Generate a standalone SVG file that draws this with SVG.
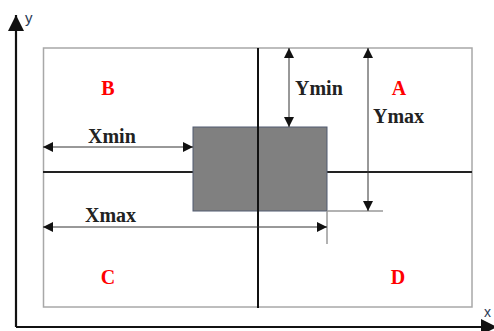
<svg xmlns="http://www.w3.org/2000/svg" width="494" height="331" viewBox="0 0 494 331">
<style>
.lbl{font-family:"Liberation Serif","Times New Roman",serif;font-weight:bold;font-size:20px;fill:#222}
.reg{font-family:"Liberation Serif","Times New Roman",serif;font-weight:bold;font-size:20px;fill:#ff0000;text-anchor:middle}
.dim{stroke:#333;stroke-width:1;fill:none}
.ext{stroke:#999;stroke-width:1.5;fill:none}
.axis{stroke:#111;stroke-width:2.2;fill:none}
</style>
<defs>
<marker id="ah" viewBox="0 0 10 10" refX="10" refY="5" markerWidth="10" markerHeight="10" markerUnits="userSpaceOnUse" orient="auto-start-reverse">
<path d="M0,0 L10,5 L0,10 Z" fill="#111"/>
</marker>
<marker id="axh" viewBox="0 0 10 10" refX="10" refY="5" markerWidth="17" markerHeight="16" markerUnits="userSpaceOnUse" orient="auto">
<path d="M0,0 L10,5 L0,10 Z" fill="#111"/>
</marker>
</defs>
<rect width="494" height="331" fill="#fff"/>
<g id="axes">
<path class="axis" d="M16,327 L16,15" marker-end="url(#axh)"/>
<path class="axis" d="M16,327 L497,327" marker-end="url(#axh)"/>
<text x="25" y="23" font-family="Liberation Sans, Arial, sans-serif" font-size="15" fill="#2b3a55">y</text>
<text x="484" y="317" font-family="Liberation Sans, Arial, sans-serif" font-size="14" fill="#2b3a55">x</text>
</g>
<g id="frame">
<rect x="43.5" y="48" width="428.5" height="259" fill="none" stroke="#a8a8a8" stroke-width="1.5"/>
</g>
<g id="crosshair">
<line x1="43" y1="172" x2="472" y2="172" stroke="#222" stroke-width="2"/>
</g>
<g id="box">
<rect x="193" y="127" width="134" height="84" fill="#808080" stroke="#505a70" stroke-width="1"/>
</g>
<g id="vline">
<line x1="258" y1="48" x2="258" y2="308" stroke="#111" stroke-width="2"/>
</g>
<g id="connectors">
<line class="ext" x1="327" y1="211" x2="383" y2="211"/>
<line class="ext" x1="327" y1="211" x2="327" y2="244"/>
<path class="dim" d="M289,48 L289,127" marker-start="url(#ah)" marker-end="url(#ah)"/>
<path class="dim" d="M368,48 L368,211" marker-start="url(#ah)" marker-end="url(#ah)"/>
<path class="dim" d="M43,147 L193,147" marker-start="url(#ah)" marker-end="url(#ah)"/>
<path class="dim" d="M43,227 L327,227" marker-start="url(#ah)" marker-end="url(#ah)"/>
</g>
<g id="labels">
<text class="lbl" x="88" y="143">Xmin</text>
<text class="lbl" x="85" y="222">Xmax</text>
<text class="lbl" x="295" y="95">Ymin</text>
<text class="lbl" x="373" y="123">Ymax</text>
</g>
<g id="regions">
<text class="reg" x="108" y="95">B</text>
<text class="reg" x="399" y="95">A</text>
<text class="reg" x="108" y="284">C</text>
<text class="reg" x="398" y="284">D</text>
</g>
</svg>
